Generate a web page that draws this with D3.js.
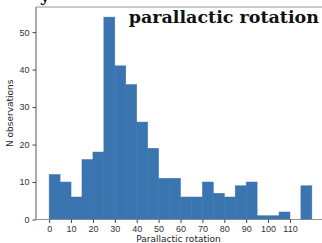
<!DOCTYPE html>
<html lang="en">
<head>
<meta charset="UTF-8">
<title>Parallactic rotation</title>
<script src="https://d3js.org/d3.v7.min.js"></script>
<style>
    body { margin: 0; padding: 0; background: #fff; overflow: hidden; }
    svg { display: block; font-family: 'DejaVu Sans', sans-serif; }
    .tick text { fill: #333; font-size: 9px; }
    .tick line { stroke: #444; }
    .axis-label { fill: #222; font-size: 9px; }
    .title { font-family: 'DejaVu Serif', serif; font-weight: bold; font-size: 17.5px; fill: #111; }
</style>
</head>
<body>
<div id="chart"></div>
<script>
    // histogram bins (left edge) and counts
    const binStarts = [0, 5, 10, 15, 20, 25, 30, 35, 40, 45, 50, 55, 60, 65, 70, 75, 80, 85, 90, 95, 100, 105, 110, 115];
    const counts = [12, 10, 6, 16, 18, 54, 41, 36, 26, 19, 11, 11, 6, 6, 10, 7, 6, 9, 10, 1, 1, 2, 0, 9];
    const binWidth = 5;
    const xTicks = [0, 10, 20, 30, 40, 50, 60, 70, 80, 90, 100, 110];
    const yTicks = [0, 10, 20, 30, 40, 50];

    const width = 322, height = 243;
    const margin = { top: 7, right: -3, bottom: 23.5, left: 36 };

    const svg = d3.select("#chart").append("svg")
        .attr("width", width)
        .attr("height", height);

    const x = d3.scaleLinear()
        .domain([-6, 126])
        .range([margin.left, width - margin.right]);

    const y = d3.scaleLinear()
        .domain([0, d3.max(counts) * 1.05])
        .range([height - margin.bottom, margin.top]);

    const data = binStarts.map((b, i) => ({ x0: b, x1: b + binWidth, n: counts[i] }));

    // bars (no visible gap between neighbours)
    svg.append("g").selectAll("rect")
        .data(data.filter(d => d.n > 0))
        .join("rect")
        .attr("x", d => x(d.x0))
        .attr("width", d => x(d.x1) - x(d.x0))
        .attr("y", d => y(d.n))
        .attr("height", d => y(0) - y(d.n))
        .attr("fill", "#3a75b0")
        .attr("stroke", "#3a75b0")
        .attr("stroke-width", 0.5);

    // spines
    const frame = svg.append("g").attr("fill", "none").attr("stroke-width", 0.9);
    frame.append("line").attr("stroke", "#444")
        .attr("x1", x(-6)).attr("x2", x(-6)).attr("y1", y.range()[0]).attr("y2", y.range()[1]);
    frame.append("line").attr("stroke", "#888")
        .attr("x1", x(-6)).attr("x2", x(126)).attr("y1", y.range()[1]).attr("y2", y.range()[1]);
    frame.append("line").attr("stroke", "#888")
        .attr("x1", x(-6)).attr("x2", x(126)).attr("y1", y.range()[0]).attr("y2", y.range()[0]);

    // axes
    const xAxis = svg.append("g")
        .attr("transform", `translate(0,${y(0)})`)
        .call(d3.axisBottom(x).tickValues(xTicks).tickSize(3.5).tickPadding(2.5));
    xAxis.select(".domain").remove();

    const yAxis = svg.append("g")
        .attr("transform", `translate(${x(-6)},0)`)
        .call(d3.axisLeft(y).tickValues(yTicks).tickSize(3.5).tickPadding(3));
    yAxis.select(".domain").remove();

    // axis labels
    svg.append("text")
        .attr("class", "axis-label")
        .attr("x", (x(-6) + x(126)) / 2 - 2)
        .attr("y", height - 1.5)
        .attr("text-anchor", "middle")
        .text("Parallactic rotation");

    svg.append("text")
        .attr("class", "axis-label")
        .attr("transform", `translate(13,${(y.range()[0] + y.range()[1]) / 2}) rotate(-90)`)
        .attr("text-anchor", "middle")
        .text("N observations");

    // title text overlapping the top of the plot
    svg.append("text")
        .attr("class", "title")
        .attr("x", 319)
        .attr("y", 23)
        .attr("text-anchor", "end")
        .text("parallactic rotation");

    // heading cut off above the figure (only the descender of "y" shows)
    svg.append("text")
        .attr("x", 40)
        .attr("y", 1)
        .attr("font-family", "'DejaVu Serif', serif")
        .attr("font-weight", "bold")
        .attr("font-size", 17)
        .attr("fill", "#111")
        .text("y");
</script>
</body>
</html>
